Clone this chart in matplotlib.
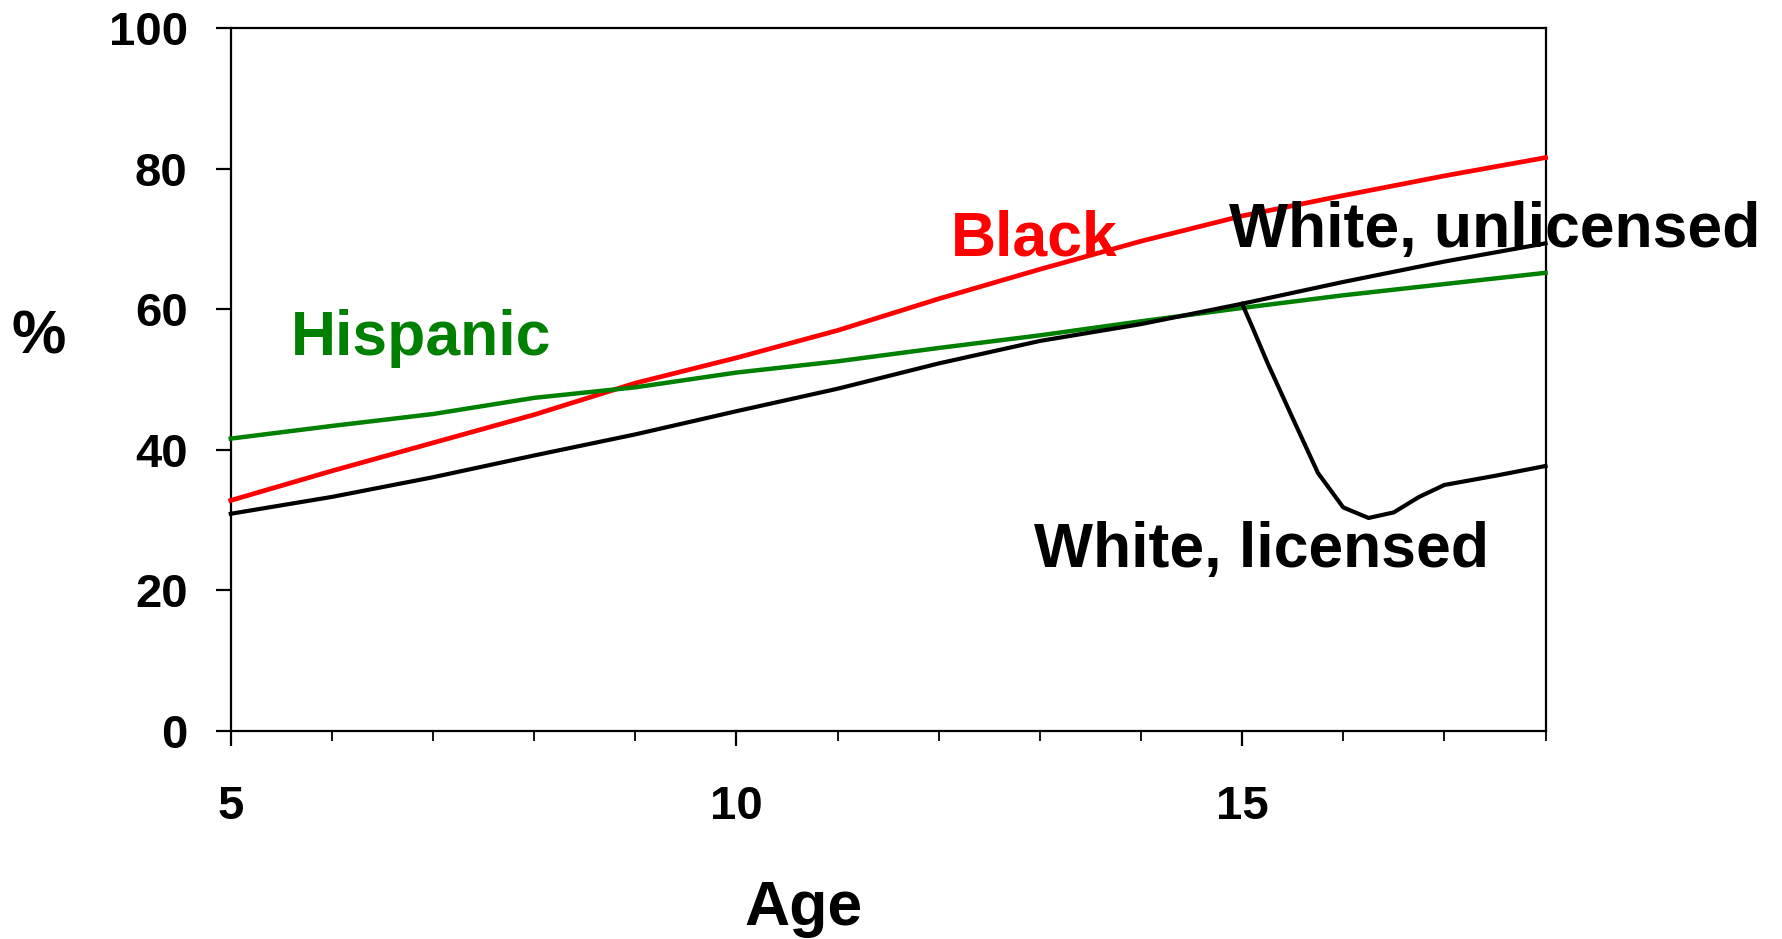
import matplotlib
matplotlib.use("Agg")
import matplotlib.pyplot as plt
from matplotlib.ticker import MultipleLocator

plt.rcParams['font.family'] = ['Liberation Sans', 'DejaVu Sans']
plt.rcParams['font.weight'] = 'bold'

ages = [5, 6, 7, 8, 9, 10, 11, 12, 13, 14, 15, 16, 17, 18]
black = [32.8, 37.0, 41.0, 45.0, 49.5, 53.1, 57.0, 61.5, 65.7, 69.7, 73.3, 76.2, 79.0, 81.6]
hispanic = [41.6, 43.4, 45.1, 47.4, 48.9, 51.0, 52.6, 54.5, 56.3, 58.3, 60.2, 62.0, 63.6, 65.2]
white_unlic = [30.9, 33.3, 36.1, 39.2, 42.2, 45.5, 48.7, 52.3, 55.5, 57.9, 60.8, 63.9, 66.8, 69.4]
lic_ages = [15, 15.1, 15.25, 15.5, 15.75, 16, 16.25, 16.5, 16.75, 17, 17.5, 18]
white_lic = [60.8, 57.5, 52.4, 44.5, 36.7, 31.8, 30.3, 31.1, 33.3, 35.0, 36.3, 37.7]

fig = plt.figure(figsize=(17.82, 9.39), dpi=100)
ax = fig.add_axes([0.1295, 0.2217, 0.8673 - 0.1295, 0.9698 - 0.2217])

ax.plot(ages, black, color='#FF0000', lw=3.4, clip_on=False, zorder=3, solid_joinstyle='round')
ax.plot(ages, hispanic, color='#008000', lw=3.2, clip_on=False, zorder=3, solid_joinstyle='round')
ax.plot(ages, white_unlic, color='black', lw=3.0, clip_on=False, zorder=3, solid_joinstyle='round')
ax.plot(lic_ages, white_lic, color='black', lw=3.0, clip_on=False, zorder=3, solid_joinstyle='round')

ax.set_xlim(5, 18)
ax.set_ylim(0, 100)
ax.set_yticks([0, 20, 40, 60, 80, 100])
ax.set_xticks([5, 10, 15])
ax.xaxis.set_minor_locator(MultipleLocator(1))

for s in ax.spines.values():
    s.set_linewidth(1.6)

ax.tick_params(axis='y', direction='out', length=11, width=1.6, pad=20, labelsize=34)
ax.tick_params(axis='x', which='major', direction='out', length=11, width=1.6, pad=28, labelsize=34)
ax.tick_params(axis='x', which='minor', direction='out', length=7.5, width=1.3)
for lab in ax.get_xticklabels() + ax.get_yticklabels():
    lab.set_fontweight('bold')

fs = 45
ax.text(12.94, 70.0, 'Black', color='#FF0000', fontsize=fs, fontweight='bold', ha='center', va='center', clip_on=False)
ax.text(6.88, 55.9, 'Hispanic', color='#008000', fontsize=fs, fontweight='bold', ha='center', va='center', clip_on=False)
ax.text(17.5, 71.2, 'White, unlicensed', color='black', fontsize=fs, fontweight='bold', ha='center', va='center', clip_on=False)
ax.text(15.19, 25.6, 'White, licensed', color='black', fontsize=fs, fontweight='bold', ha='center', va='center', clip_on=False)

fig.text(38.6 / 1782, 1 - 338 / 939, '%', fontsize=44, fontweight='bold', ha='center', va='center')
fig.text(803 / 1782, 1 - 908 / 939, 'Age', fontsize=45, fontweight='bold', ha='center', va='center')

fig.savefig('out.png', dpi=100)
